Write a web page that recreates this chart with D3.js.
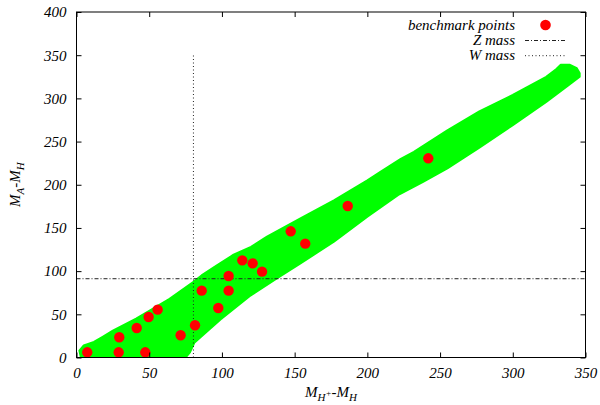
<!DOCTYPE html>
<html>
<head>
<meta charset="utf-8">
<script src="https://cdn.jsdelivr.net/npm/d3@7"></script>
<style>
  body { margin: 0; background: #fff; }
  text { font-family: "Liberation Serif", "Times New Roman", Times, serif; font-style: italic; }
</style>
</head>
<body>
<script>
// benchmark points (M_H+ - M_H, M_A - M_H)
var benchX = [7.4, 29.0, 47.3, 29.4, 41.4, 49.6, 55.8, 71.6, 81.5, 86.1, 97.5, 104.6, 104.6, 114.0, 121.1, 127.6, 147.3, 157.3, 186.5, 241.9];
var benchY = [6.0, 6.0, 6.0, 23.4, 34.2, 46.9, 55.4, 25.7, 37.3, 77.4, 57.3, 77.4, 94.4, 112.5, 109.0, 99.4, 146.1, 131.8, 175.4, 230.6];

// outline of the allowed (green) scan region
var upperEdge = [[3,0],[2,8],[5,14],[12,18],[18,24],[25,31],[41,45],[64,68],[80,87],[86,95],[96,106],[108,119],[120,128],[131,140],[154,161],[177,182],[200,205],[209,215],[223,230],[232,238],[255,263],[277,285],[300,304],[323,325],[330,334],[333,339],[339,339],[344,335],[346,329]];
var lowerEdge = [[346,325],[339,316],[323,296],[300,269],[277,243],[255,219],[238,203],[222,189],[200,163],[177,134],[154,109],[138,92],[119,71],[99,44],[81,17],[78,6],[75,0]];

var zMass = 91.2;
var wMass = 80.4;

var xTicks = [0, 50, 100, 150, 200, 250, 300, 350];
var yTicks = [0, 50, 100, 150, 200, 250, 300, 350, 400];

var width = 600, height = 405;
var margin = {top: 12, right: 14.5, bottom: 47.5, left: 76.5};

var svg = d3.select('body').append('svg')
  .attr('width', width)
  .attr('height', height);

var x = d3.scaleLinear().domain([0, 350]).range([margin.left, width - margin.right]);
var y = d3.scaleLinear().domain([0, 400]).range([height - margin.bottom, margin.top]);

svg.append('clipPath').attr('id', 'plot')
  .append('rect')
  .attr('x', x(0)).attr('y', y(400))
  .attr('width', x(350) - x(0)).attr('height', y(0) - y(400));

var line = d3.line().x(function(d){ return x(d[0]); }).y(function(d){ return y(d[1]); });

// green region
svg.append('path')
  .datum(upperEdge.concat(lowerEdge))
  .attr('clip-path', 'url(#plot)')
  .attr('d', function(d){ return line(d) + 'Z'; })
  .attr('fill', '#00ff00')
  .attr('stroke', '#00ff00')
  .attr('stroke-width', 2)
  .attr('stroke-linejoin', 'round');

// Z mass (dash-dot) and W mass (dotted)
svg.append('path')
  .datum([[0, zMass], [350, zMass]])
  .attr('d', line)
  .attr('stroke', '#222').attr('stroke-width', 1)
  .attr('stroke-dasharray', '4,2,1,2')
  .attr('fill', 'none');

svg.append('path')
  .datum([[wMass, 0], [wMass, 350]])
  .attr('d', line)
  .attr('stroke', '#222').attr('stroke-width', 1)
  .attr('stroke-dasharray', '1,2.5')
  .attr('fill', 'none');

// benchmark points
svg.selectAll('circle.bench')
  .data(benchX)
  .enter()
  .append('circle')
  .attr('class', 'bench')
  .attr('cx', function(d){ return x(d); })
  .attr('cy', function(d, i){ return y(benchY[i]); })
  .attr('r', 5.2)
  .attr('fill', '#ff0000');

// axes
var styleAxis = function(g) {
  g.attr('font-family', null);
  g.select('.domain').remove();
  g.selectAll('line').attr('stroke', '#000');
  g.selectAll('text').attr('font-size', 15).attr('fill', '#000');
};

svg.append('g')
  .attr('transform', 'translate(0,' + y(0) + ')')
  .call(d3.axisBottom(x).tickValues(xTicks).tickSizeInner(-5).tickSizeOuter(0).tickPadding(10))
  .call(styleAxis);

svg.append('g')
  .attr('transform', 'translate(0,' + y(400) + ')')
  .call(d3.axisTop(x).tickValues(xTicks).tickSizeInner(-5).tickSizeOuter(0).tickFormat(''))
  .call(styleAxis);

svg.append('g')
  .attr('transform', 'translate(' + x(0) + ',0)')
  .call(d3.axisLeft(y).tickValues(yTicks).tickSizeInner(-5).tickSizeOuter(0).tickPadding(10))
  .call(styleAxis);

svg.append('g')
  .attr('transform', 'translate(' + x(350) + ',0)')
  .call(d3.axisRight(y).tickValues(yTicks).tickSizeInner(-5).tickSizeOuter(0).tickFormat(''))
  .call(styleAxis);

// frame
svg.append('rect')
  .attr('x', x(0)).attr('y', y(400))
  .attr('width', x(350) - x(0)).attr('height', y(0) - y(400))
  .attr('fill', 'none').attr('stroke', '#000').attr('stroke-width', 1);

// axis titles
var xt = svg.append('text')
  .attr('x', (x(0) + x(350)) / 2)
  .attr('y', 397)
  .attr('text-anchor', 'middle')
  .attr('font-size', 15);
xt.append('tspan').text('M');
xt.append('tspan').attr('dy', 4).attr('font-size', 11).text('H');
xt.append('tspan').attr('dy', -5).attr('font-size', 9).text('+');
xt.append('tspan').attr('dy', 1).text('-M');
xt.append('tspan').attr('dy', 4).attr('font-size', 11).text('H');

var yt = svg.append('text')
  .attr('transform', 'translate(20,' + ((y(0) + y(400)) / 2) + ') rotate(-90)')
  .attr('text-anchor', 'middle')
  .attr('font-size', 15);
yt.append('tspan').text('M');
yt.append('tspan').attr('dy', 4).attr('font-size', 11).text('A');
yt.append('tspan').attr('dy', -4).text('-M');
yt.append('tspan').attr('dy', 4).attr('font-size', 11).text('H');

// legend
var legendNames = ['benchmark points', 'Z mass', 'W mass'];
var legendY = [25, 40.5, 55.7];
var legend = svg.append('g');

legend.selectAll('text')
  .data(legendNames)
  .enter()
  .append('text')
  .attr('x', 515)
  .attr('y', function(d, i){ return legendY[i] + 4.5; })
  .attr('text-anchor', 'end')
  .attr('font-size', 15)
  .text(function(d){ return d; });

legend.append('circle').attr('cx', 545.5).attr('cy', legendY[0]).attr('r', 5.3).attr('fill', '#ff0000');
legend.append('line').attr('x1', 525).attr('x2', 566).attr('y1', legendY[1]).attr('y2', legendY[1])
  .attr('stroke', '#222').attr('stroke-dasharray', '4,2,1,2');
legend.append('line').attr('x1', 525).attr('x2', 566).attr('y1', legendY[2]).attr('y2', legendY[2])
  .attr('stroke', '#222').attr('stroke-dasharray', '1,2.5');
</script>
</body>
</html>
